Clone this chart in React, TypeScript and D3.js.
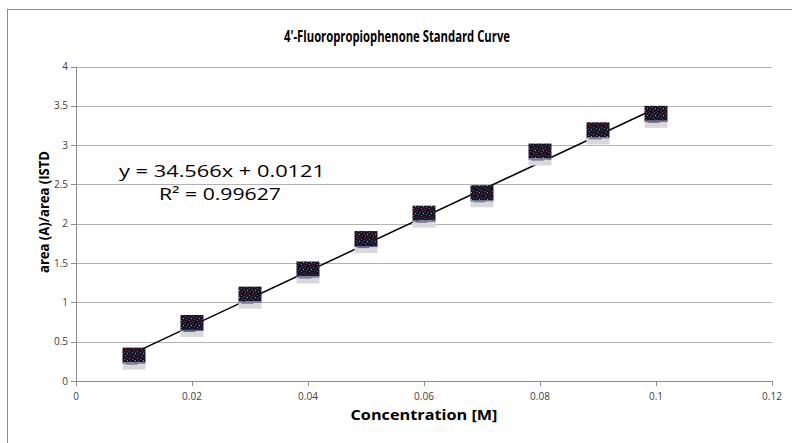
import React from "react";
import * as d3 from "d3";

const concentration = [0.01, 0.02, 0.03, 0.04, 0.05, 0.06, 0.07, 0.08, 0.09, 0.1];
const areaRatio = [0.285, 0.7, 1.06, 1.38, 1.767, 2.09, 2.35, 2.88, 3.15, 3.36];
const xTicks = [0, 0.02, 0.04, 0.06, 0.08, 0.1, 0.12];
const yTicks = [0, 0.5, 1, 1.5, 2, 2.5, 3, 3.5, 4];
const xTickLabels = ["0", "0.02", "0.04", "0.06", "0.08", "0.1", "0.12"];
const yTickLabels = ["0", "0.5", "1", "1.5", "2", "2.5", "3", "3.5", "4"];
const slope = 34.566;
const intercept = 0.0121;
const titleText = "4'-Fluoropropiophenone Standard Curve";
const equationText = "y = 34.566x + 0.0121";
const r2Text = "R² = 0.99627";
const xLabel = "Concentration [M]";
const yLabel = "area (A)/area (ISTD";

const W = 792;
const H = 443;
const FONT = "'Open Sans', 'Noto Sans', sans-serif";

export default function App() {
  const x = d3.scaleLinear().domain([0, 0.12]).range([76, 772]);
  const y = d3.scaleLinear().domain([0, 4]).range([381, 66.5]);
  const xMin = d3.min(concentration) as number;
  const xMax = d3.max(concentration) as number;
  const line = d3
    .line<number>()
    .x((d) => x(d))
    .y((d) => y(slope * d + intercept));

  const mw = 23;
  const mh = 22;

  return (
    <svg
      width={W}
      height={H}
      style={{ position: "absolute", left: 0, top: 0, background: "#fff" }}
    >
      <defs>
        <pattern id="speck" width="8" height="7" patternUnits="userSpaceOnUse">
          <rect width="8" height="7" fill="#1b1224" />
          <rect x="1" y="1" width="1" height="1" fill="#7a4a8a" />
          <rect x="4" y="2" width="1" height="1" fill="#3d6a9a" />
          <rect x="6" y="0" width="1" height="1" fill="#8a3a4a" />
          <rect x="2" y="4" width="1" height="1" fill="#2e7a4a" />
          <rect x="5" y="5" width="1" height="1" fill="#6a5aa0" />
          <rect x="7" y="3" width="1" height="1" fill="#b0a0c0" />
          <rect x="0" y="6" width="1" height="1" fill="#402060" />
        </pattern>
      </defs>
      <rect x={7.5} y={9.5} width={W} height={H} fill="#fff" stroke="#8c8c8c" strokeWidth={1} />

      {/* gridlines */}
      {yTicks.slice(1).map((t) => (
        <line
          key={"g" + t}
          x1={x(0)}
          x2={x(0.12)}
          y1={Math.round(y(t)) + 0.5}
          y2={Math.round(y(t)) + 0.5}
          stroke="#b3b3b3"
          strokeWidth={1}
        />
      ))}

      {/* axes */}
      <line x1={x(0) + 0.5} x2={x(0) + 0.5} y1={y(4)} y2={y(0)} stroke="#8c8c8c" />
      <line x1={x(0) - 5} x2={x(0.12)} y1={Math.round(y(0)) + 0.5} y2={Math.round(y(0)) + 0.5} stroke="#8c8c8c" />
      {yTicks.map((t) => (
        <line
          key={"yt" + t}
          x1={x(0) - 5}
          x2={x(0)}
          y1={Math.round(y(t)) + 0.5}
          y2={Math.round(y(t)) + 0.5}
          stroke="#8c8c8c"
        />
      ))}
      {xTicks.map((t) => (
        <line
          key={"xt" + t}
          x1={Math.round(x(t)) + 0.5}
          x2={Math.round(x(t)) + 0.5}
          y1={y(0)}
          y2={y(0) + 5}
          stroke="#8c8c8c"
        />
      ))}

      {/* tick labels */}
      {yTicks.map((t, i) => (
        <text
          key={"yl" + t}
          x={x(0) - 8}
          y={y(t) + 3.5}
          textAnchor="end"
          fontFamily={FONT}
          fontSize={10}
          fill="#404040"
        >
          {yTickLabels[i]}
        </text>
      ))}
      {xTicks.map((t, i) => (
        <text
          key={"xl" + t}
          x={x(t)}
          y={400}
          textAnchor="middle"
          fontFamily={FONT}
          fontSize={10}
          fill="#404040"
        >
          {xTickLabels[i]}
        </text>
      ))}

      {/* trendline */}
      <path d={line([xMin, xMax]) || ""} stroke="#000" strokeWidth={1.5} fill="none" />

      {/* markers */}
      {concentration.map((c, i) => {
        const cx = x(c);
        const cy = y(areaRatio[i]);
        return (
          <g key={"m" + i}>
            <rect x={cx - mw / 2} y={cy - mh / 2} width={mw} height={15} fill="url(#speck)" />
            <rect x={cx - mw / 2} y={cy - mh / 2 + 15} width={mw} height={mh - 15} fill="#d9d9d9" />
            <rect x={cx - mw / 2} y={cy - mh / 2 + 15} width={mw} height={1} fill="#4a5a8a" />
            <rect x={cx - mw / 2 + 3} y={cy - mh / 2 + 16} width={12} height={1} fill="#6a6a8a" />
          </g>
        );
      })}

      {/* equation */}
      <text
        x={119}
        y={177}
        fontFamily={FONT}
        fontSize={16.5}
        fill="#000"
        textLength={206}
        lengthAdjust="spacingAndGlyphs"
      >
        {equationText}
      </text>
      <text
        x={159}
        y={200}
        fontFamily={FONT}
        fontSize={16.5}
        fill="#000"
        textLength={122}
        lengthAdjust="spacingAndGlyphs"
      >
        {r2Text}
      </text>

      {/* title */}
      <text
        x={397}
        y={42}
        textAnchor="middle"
        fontFamily={FONT}
        fontWeight="bold"
        fontSize={15.5}
        fill="#000"
        textLength={226}
        lengthAdjust="spacingAndGlyphs"
      >
        {titleText}
      </text>

      {/* axis titles */}
      <text
        x={424}
        y={420}
        textAnchor="middle"
        fontFamily={FONT}
        fontWeight="bold"
        fontSize={14}
        fill="#000"
        textLength={147}
        lengthAdjust="spacingAndGlyphs"
      >
        {xLabel}
      </text>
      <text
        transform={`translate(49,${212}) rotate(-90)`}
        textAnchor="middle"
        fontFamily={FONT}
        fontWeight="bold"
        fontSize={13.5}
        fill="#000"
        textLength={122}
        lengthAdjust="spacingAndGlyphs"
      >
        {yLabel}
      </text>
    </svg>
  );
}
